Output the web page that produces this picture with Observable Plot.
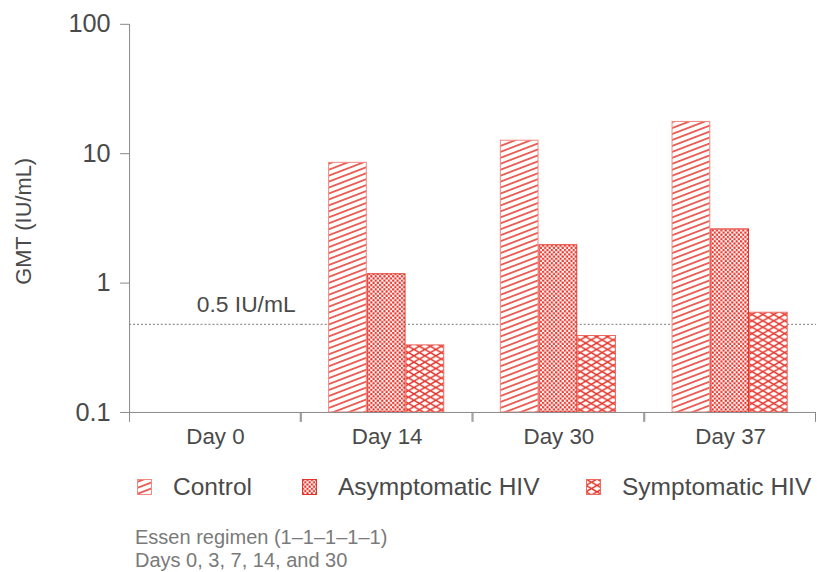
<!DOCTYPE html>
<html><head><meta charset="utf-8">
<script src="https://cdn.jsdelivr.net/npm/d3@7"></script>
<script src="https://cdn.jsdelivr.net/npm/@observablehq/plot@0.6"></script>
<style>
body{margin:0;background:#fff;font-family:"Liberation Sans",Arial,sans-serif;}
#chart{width:817px;height:572px;position:relative;overflow:hidden;background:#fff}
#chart > svg{position:absolute;left:0;top:0}
.legend{position:absolute;top:470px;left:0;height:34px;width:817px}
.item{position:absolute;top:0;display:flex;align-items:center;height:34px;font-size:24.5px;color:#4a4a4a;white-space:nowrap}
.item svg{margin-right:21px}
.caption{position:absolute;left:135px;top:526px;font-size:20px;color:#7a7a7a;line-height:23px}
</style></head><body>
<div id="chart"></div>
<script>
// ---- data ----
const days = ["Day 0", "Day 14", "Day 30", "Day 37"];
const groups = ["Control", "Asymptomatic HIV", "Symptomatic HIV"];
const control = [null, 8.5, 12.6, 17.6];
const asymptomatic = [null, 1.17, 1.96, 2.6];
const symptomatic = [null, 0.33, 0.39, 0.59];
const yTicks = [0.1, 1, 10, 100];
const threshold = 0.48;
const thresholdLabel = "0.5 IU/mL";
const yLabel = "GMT (IU/mL)";
const captionLines = ["Essen regimen (1–1–1–1–1)", "Days 0, 3, 7, 14, and 30"];

// ---- styles ----
const RED = "#e5352b";
const TEXT = "#4a4a4a";
const patternIds = {"Control": "pat-control", "Asymptomatic HIV": "pat-asym", "Symptomatic HIV": "pat-sym"};
const borderColors = {"Control": "#f08a82", "Asymptomatic HIV": "#e5352b", "Symptomatic HIV": "#ee6a60"};
const legendLeft = [137, 302, 586];

const series = [control, asymptomatic, symptomatic];
const rows = [];
days.forEach((day, i) => groups.forEach((g, j) => {
  const v = series[j][i];
  if (v != null) rows.push({day, group: g, value: v, fill: `url(#${patternIds[g]})`, border: borderColors[g]});
}));

function addPatterns(defs, suffix) {
  const pc = defs.append("pattern").attr("id", "pat-control" + suffix).attr("patternUnits", "userSpaceOnUse")
    .attr("width", 8).attr("height", 5.6).attr("patternTransform", "rotate(-21)");
  pc.append("rect").attr("width", 8).attr("height", 5.6).attr("fill", "#fff");
  pc.append("line").attr("x1", 0).attr("x2", 8).attr("y1", 2.8).attr("y2", 2.8).attr("stroke", RED).attr("stroke-width", 1.5);
  const pa = defs.append("pattern").attr("id", "pat-asym" + suffix).attr("patternUnits", "userSpaceOnUse")
    .attr("width", 4.4).attr("height", 4.4);
  pa.append("rect").attr("width", 4.4).attr("height", 4.4).attr("fill", "#fff");
  pa.append("circle").attr("cx", 1.1).attr("cy", 1.1).attr("r", 1.25).attr("fill", RED);
  pa.append("circle").attr("cx", 3.3).attr("cy", 3.3).attr("r", 1.25).attr("fill", RED);
  const ps = defs.append("pattern").attr("id", "pat-sym" + suffix).attr("patternUnits", "userSpaceOnUse")
    .attr("width", 11).attr("height", 6.4);
  ps.append("rect").attr("width", 11).attr("height", 6.4).attr("fill", "#fff");
  ps.append("path").attr("d", "M0,0L11,6.4M0,6.4L11,0").attr("stroke", RED).attr("stroke-width", 1.4).attr("fill", "none");
}

const boundaryTicks = (index, scales, values, dims) => {
  const g = d3.create("svg:g");
  const y0 = dims.height - dims.marginBottom;
  [dims.marginLeft + 0.5, dims.width - dims.marginRight - 0.5].forEach(x =>
    g.append("line").attr("x1", x).attr("x2", x).attr("y1", y0).attr("y2", y0 + 10).attr("stroke", "#888"));
  return g.node();
};

const svg = Plot.plot({
  width: 823, height: 460,
  marginTop: 24, marginLeft: 128, marginRight: 0, marginBottom: 45,
  style: {fontFamily: "Liberation Sans, Arial, sans-serif", color: TEXT, background: "#fff"},
  fx: {domain: days, padding: 0, label: null},
  x: {domain: groups, paddingInner: 0.025, paddingOuter: 0.68, axis: null},
  y: {type: "log", domain: [yTicks[0], yTicks[yTicks.length - 1]]},
  color: {type: "identity"},
  marks: [
    Plot.ruleY([threshold], {stroke: "#777", strokeDasharray: "2,2", strokeWidth: 1}),
    Plot.barY(rows, {fx: "day", x: "group", y1: yTicks[0], y2: "value", fill: "fill", stroke: "border", strokeWidth: 1}),
    Plot.ruleY([yTicks[0]], {stroke: "#888"}),
    Plot.frame({anchor: "left", facetAnchor: "left", stroke: "#888"}),
    boundaryTicks,
    Plot.axisY({ticks: yTicks, tickFormat: d => String(d), tickSize: 9, tickPadding: 10, fontSize: 25.5, label: null, stroke: "#888"}),
    Plot.axisFx({anchor: "bottom", tickSize: 0, tickPadding: 16, fontSize: 22.5, label: null}),
    Plot.text([{day: days[0], label: thresholdLabel, value: threshold}], {fx: "day", y: "value", text: "label", dx: 31, dy: -20, fontSize: 23, fill: TEXT}),
    Plot.text([{day: days[0], label: yLabel}], {fx: "day", text: "label", frameAnchor: "left", textAnchor: "middle", rotate: -90, dx: -106, dy: 3, fontSize: 22, fill: TEXT})
  ]
});
addPatterns(d3.select(svg).insert("defs", ":first-child"), "");

const chart = document.getElementById("chart");
chart.appendChild(svg);

// legend
const legend = d3.select(chart).append("div").attr("class", "legend");
groups.forEach((g, i) => {
  const item = legend.append("div").attr("class", "item").style("left", legendLeft[i] + "px");
  const s = item.append("svg").attr("width", 15).attr("height", 16);
  addPatterns(s.append("defs"), "-lg" + i);
  s.append("rect").attr("x", 0.5).attr("y", 0.5).attr("width", 14).attr("height", 15)
    .attr("fill", `url(#${patternIds[g]}-lg${i})`).attr("stroke", borderColors[g]);
  item.append("span").text(g);
});

// caption
const cap = d3.select(chart).append("div").attr("class", "caption");
captionLines.forEach(t => cap.append("div").text(t));
</script>
</body></html>
